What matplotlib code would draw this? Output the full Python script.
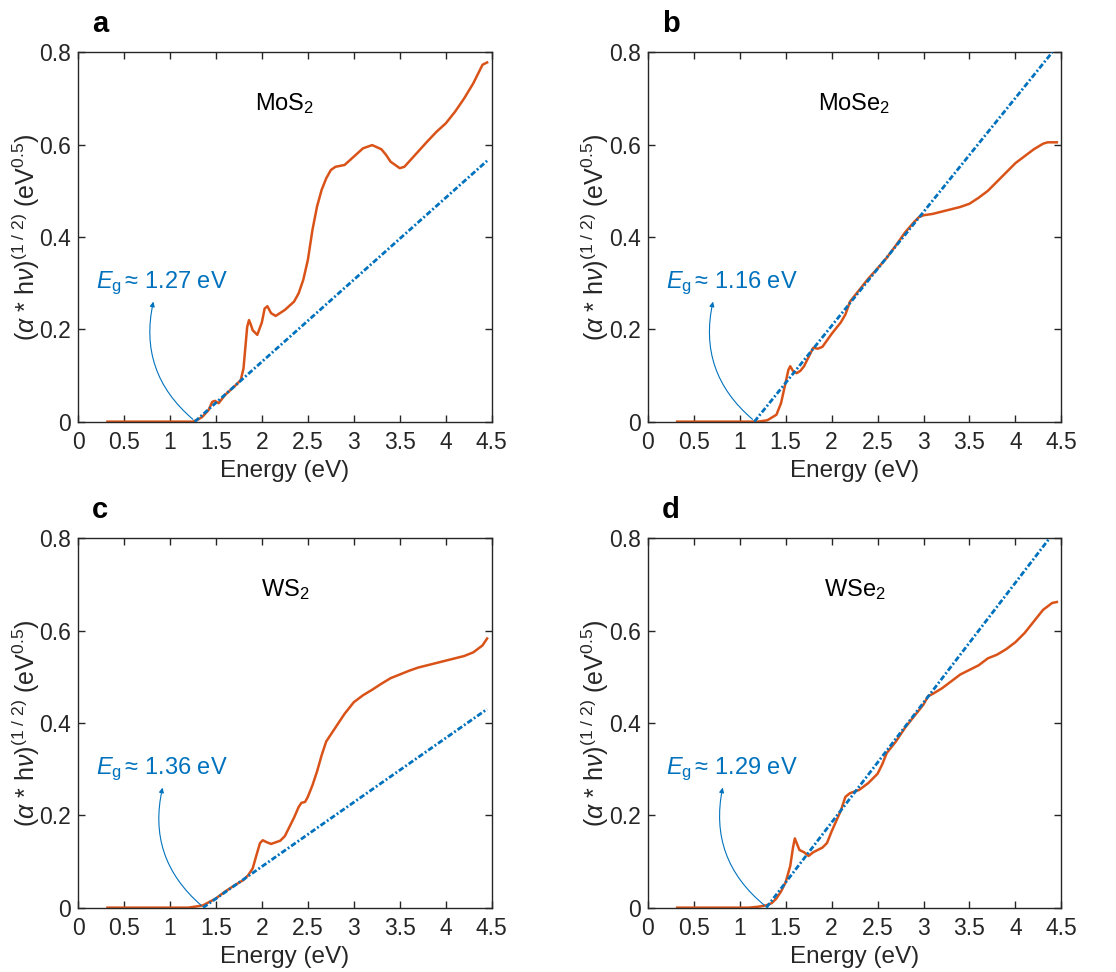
import matplotlib
matplotlib.use("Agg")
import matplotlib.pyplot as plt

plt.rcParams['font.family'] = ['Liberation Sans', 'DejaVu Sans']
plt.rcParams['mathtext.fontset'] = 'custom'
plt.rcParams['mathtext.rm'] = 'Liberation Sans'
plt.rcParams['mathtext.it'] = 'Liberation Sans:italic'
plt.rcParams['mathtext.bf'] = 'Liberation Sans:bold'

# orange = measured curve, blue = linear fit (Tauc)
orange = '#D95319'
blue = '#0072BD'
dark = '#262626'

# panel a, MoS2
a_x = [0.32, 1.0, 1.25, 1.3, 1.35, 1.42, 1.46, 1.49, 1.53, 1.6, 1.7, 1.77, 1.8, 1.82, 1.84, 1.86, 1.88, 1.9, 1.95,
       2.0, 2.03, 2.06, 2.1, 2.15, 2.25, 2.35, 2.4, 2.45, 2.5, 2.55, 2.6, 2.65, 2.7, 2.75, 2.8, 2.9,
       3.0, 3.1, 3.2, 3.3, 3.35, 3.4, 3.5, 3.55, 3.6, 3.7, 3.8, 3.9, 4.0, 4.1, 4.2, 4.3, 4.4, 4.45]
a_y = [0, 0, 0, 0.004, 0.01, 0.025, 0.043, 0.045, 0.04, 0.058, 0.076, 0.09, 0.115, 0.16, 0.205, 0.22, 0.21, 0.198, 0.188,
       0.215, 0.245, 0.25, 0.235, 0.229, 0.242, 0.26, 0.278, 0.307, 0.35, 0.415, 0.466, 0.502, 0.527, 0.545, 0.552, 0.556,
       0.574, 0.592, 0.599, 0.59, 0.578, 0.563, 0.549, 0.552, 0.563, 0.585, 0.607, 0.628, 0.646, 0.671, 0.7, 0.733, 0.773, 0.778]

# panel b, MoSe2
b_x = [0.32, 1.0, 1.2, 1.3, 1.4, 1.45, 1.5, 1.53, 1.55, 1.58, 1.62, 1.66, 1.7, 1.75, 1.8, 1.85, 1.9,
       2.0, 2.1, 2.15, 2.2, 2.3, 2.4, 2.5, 2.6, 2.7, 2.8, 2.9, 2.95, 3.0, 3.1, 3.2, 3.3, 3.4,
       3.5, 3.6, 3.7, 3.8, 3.9, 4.0, 4.1, 4.2, 4.3, 4.35, 4.45]
b_y = [0, 0, 0, 0.003, 0.015, 0.04, 0.085, 0.112, 0.12, 0.11, 0.105, 0.11, 0.12, 0.14, 0.16, 0.158, 0.162,
       0.19, 0.215, 0.232, 0.26, 0.285, 0.31, 0.332, 0.355, 0.382, 0.41, 0.433, 0.443, 0.447, 0.45, 0.455, 0.46, 0.465,
       0.472, 0.485, 0.5, 0.52, 0.54, 0.56, 0.575, 0.59, 0.602, 0.605, 0.605]

# panel c, WS2
c_x = [0.32, 1.0, 1.2, 1.3, 1.36, 1.5, 1.6, 1.7, 1.8, 1.85, 1.9, 1.95, 1.98, 2.01, 2.05, 2.1, 2.2,
       2.25, 2.3, 2.35, 2.4, 2.43, 2.47, 2.5, 2.55, 2.6, 2.65, 2.7, 2.8, 2.9, 3.0, 3.1, 3.2, 3.3,
       3.4, 3.5, 3.6, 3.7, 3.8, 3.9, 4.0, 4.1, 4.2, 4.3, 4.4, 4.45]
c_y = [0, 0, 0, 0.003, 0.005, 0.02, 0.035, 0.048, 0.06, 0.07, 0.085, 0.12, 0.14, 0.146, 0.142, 0.138, 0.145,
       0.155, 0.175, 0.195, 0.218, 0.227, 0.229, 0.24, 0.265, 0.295, 0.33, 0.36, 0.39, 0.42, 0.445, 0.46, 0.472, 0.485,
       0.497, 0.505, 0.513, 0.52, 0.525, 0.53, 0.535, 0.54, 0.545, 0.553, 0.568, 0.583]

# panel d, WSe2
d_x = [0.32, 1.0, 1.1, 1.2, 1.29, 1.35, 1.4, 1.45, 1.5, 1.55, 1.58, 1.6, 1.62, 1.65, 1.7, 1.75, 1.8, 1.9,
       1.95, 2.0, 2.1, 2.15, 2.2, 2.3, 2.4, 2.5, 2.55, 2.6, 2.7, 2.8, 2.9, 3.0, 3.05, 3.1,
       3.2, 3.3, 3.4, 3.5, 3.6, 3.7, 3.8, 3.9, 4.0, 4.1, 4.2, 4.3, 4.4, 4.45]
d_y = [0, 0, 0, 0.002, 0.005, 0.01, 0.02, 0.035, 0.055, 0.09, 0.13, 0.15, 0.14, 0.125, 0.12, 0.112, 0.12, 0.13,
       0.14, 0.165, 0.21, 0.24, 0.248, 0.255, 0.27, 0.29, 0.31, 0.335, 0.36, 0.39, 0.415, 0.44, 0.458, 0.463,
       0.475, 0.49, 0.505, 0.515, 0.525, 0.54, 0.548, 0.56, 0.575, 0.595, 0.62, 0.645, 0.66, 0.662]

names = ['MoS$_2$', 'MoSe$_2$', 'WS$_2$', 'WSe$_2$']
letters = ['a', 'b', 'c', 'd']
curves_x = [a_x, b_x, c_x, d_x]
curves_y = [a_y, b_y, c_y, d_y]
eg = [1.27, 1.16, 1.36, 1.29]
fit_end_x = [4.45, 4.40, 4.45, 4.37]
fit_end_y = [0.565, 0.8, 0.43, 0.8]
arrow_tip_x = [0.82, 0.71, 0.92, 0.815]

fig = plt.figure(figsize=(11.16, 9.72), dpi=100)
lefts = [0.0699, 0.5804, 0.0699, 0.5804]
bottoms = [0.5662, 0.5662, 0.0662, 0.0662]

for i in range(4):
    ax = fig.add_axes([lefts[i], bottoms[i], 0.3707, 0.380])
    ax.plot(curves_x[i], curves_y[i], color=orange, lw=1.8, zorder=2)
    ax.plot([eg[i], fit_end_x[i]], [0, fit_end_y[i]], color=blue, lw=2.0,
            ls=(0, (2.0, 0.8, 0.7, 0.8)), zorder=3)
    ax.set_xlim(0, 4.5)
    ax.set_ylim(0, 0.8)
    ax.set_xticks([0, 0.5, 1, 1.5, 2, 2.5, 3, 3.5, 4, 4.5])
    ax.set_xticklabels(['0', '0.5', '1', '1.5', '2', '2.5', '3', '3.5', '4', '4.5'])
    ax.set_yticks([0, 0.2, 0.4, 0.6, 0.8])
    ax.set_yticklabels(['0', '0.2', '0.4', '0.6', '0.8'])
    ax.tick_params(direction='in', length=5, width=1, top=True, right=True,
                   labelsize=16.5, colors=dark)
    ax.tick_params(axis='x', pad=7)
    ax.tick_params(axis='y', pad=5)
    for s in ax.spines.values():
        s.set_color(dark)
        s.set_linewidth(1)
    ax.set_xlabel('Energy (eV)', fontsize=17.5, color=dark)
    ax.xaxis.set_label_coords(0.5, -0.105)
    ax.set_ylabel(r'($\alpha$ * h$\nu$)$^{(1\ /\ 2)}$ (eV$^{0.5}$)', fontsize=18, color=dark)
    ax.yaxis.set_label_coords(-0.088, 0.5)

    ax.text(2.25, 0.69, names[i], fontsize=17, ha='center', va='center', color='black')
    ax.text(0.2, 0.29, r'$E_{\mathrm{g}}\,$' + '≈ %.2f eV' % eg[i], fontsize=17,
            ha='left', va='baseline', color=blue)
    ax.annotate('', xy=(arrow_tip_x[i], 0.26), xytext=(eg[i] - 0.02, 0.005),
                arrowprops=dict(arrowstyle='-|>', connectionstyle='arc3,rad=-0.3',
                                lw=0.8, color=blue, mutation_scale=7,
                                shrinkA=0, shrinkB=0))
    ax.text(0.034, 1.055, letters[i], transform=ax.transAxes, fontsize=21,
            fontweight='bold', ha='left', va='baseline')

fig.savefig('out.png', dpi=100)
